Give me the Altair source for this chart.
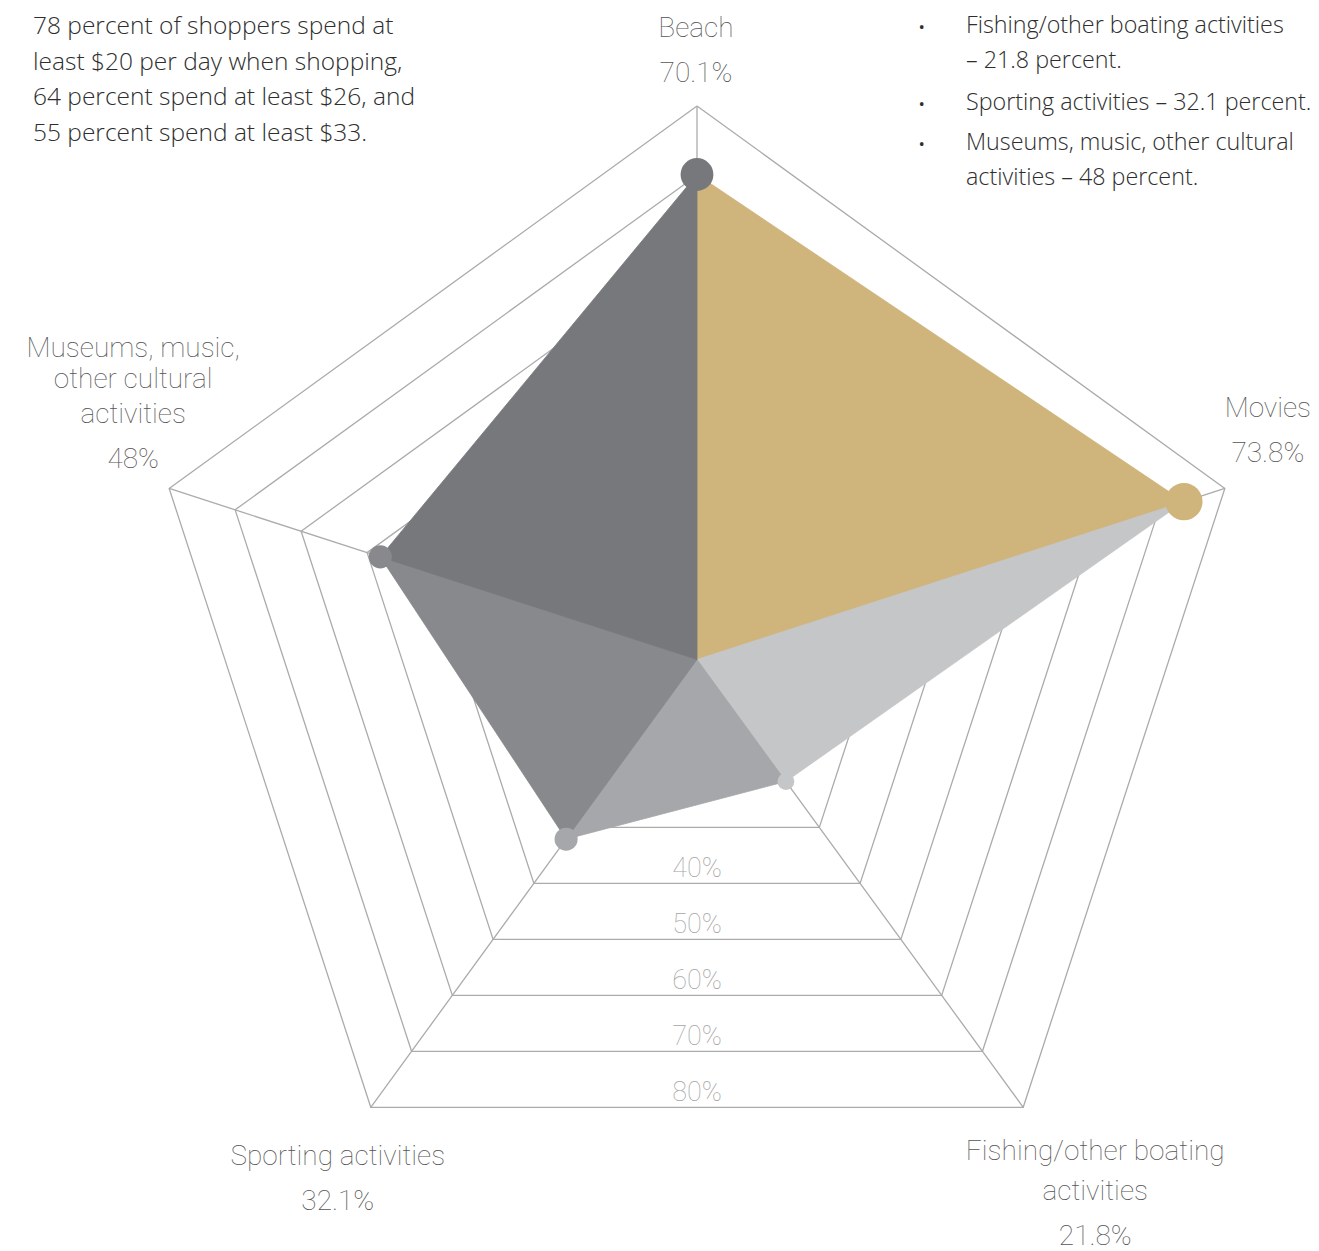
import altair as alt
import pandas as pd

# ---------------- data ----------------
categories = ["Beach", "Movies", "Fishing/other boating activities",
              "Sporting activities", "Museums, music, other cultural activities"]
label_lines = [["Beach"], ["Movies"], ["Fishing/other boating", "activities"],
               ["Sporting activities"], ["Museums, music,", "other cultural", "activities"]]
values = [70.1, 73.8, 21.8, 32.1, 48.0]
ring_levels = [30, 40, 50, 60, 70, 80]
ring_label_levels = [40, 50, 60, 70, 80]

note_lines = ["78 percent of shoppers spend at",
              "least $20 per day when shopping,",
              "64 percent spend at least $26, and",
              "55 percent spend at least $33."]
bullet_items = [["Fishing/other boating activities", "\u2013 21.8 percent."],
                ["Sporting activities \u2013 32.1 percent."],
                ["Museums, music, other cultural", "activities \u2013 48 percent."]]

# ---------------- styles / layout ----------------
wedge_colors = ["#CFB47B", "#C5C6C8", "#A6A7AA", "#88898C", "#77787C"]
dot_colors = ["#77787C", "#CFB47B", "#C5C6C8", "#A6A7AA", "#88898C"]
dot_diameters = [37, 42, 19, 26, 26]
grid_color = "#ABABAB"
label_color = "#555555"
ring_label_color = "#A5A5A5"
label_font = "Roboto"
label_weight = 100
text_font = "Open Sans"
text_weight = 300
text_color = "#2E2E2E"

# label offsets (px) from the outer-ring vertex: dx, name-line baselines, percent baseline
label_dx = [-1, 43, 72, -33, -36]
label_name_dy = [[-68.7], [-71.8], [52.7, 92.7], [57.7], [-131.8, -100.2, -65.2]]
label_pct_dy = [-24.3, -26.8, 137.7, 102.7, -20.2]

W, H = 1303, 1243
CX, CY = 697 - 8, 659.5 - 8          # centre inside plot area
KX, KY = 555 / 80, 553.5 / 80         # px per percentage point
x_dom = [-CX / KX, (W - CX) / KX]
y_dom = [(CY - H) / KY, CY / KY]

X = alt.X("x:Q", scale=alt.Scale(domain=x_dom, nice=False, zero=False), axis=None)
Y = alt.Y("y:Q", scale=alt.Scale(domain=y_dom, nice=False, zero=False), axis=None)

XCALC = "datum.r * sin(datum.axis * 2 * PI / 5)"
YCALC = "datum.r * cos(datum.axis * 2 * PI / 5)"

# ---------------- grid rings ----------------
ring_df = pd.DataFrame([{"level": L, "k": k, "axis": k % 5, "r": L}
                        for L in ring_levels for k in range(6)])
rings = alt.Chart(ring_df).transform_calculate(x=XCALC, y=YCALC).mark_line(
    color=grid_color, strokeWidth=1.3).encode(X, Y, detail="level:N", order="k:Q")

spoke_df = pd.DataFrame([{"axis": a, "k": k, "r": r}
                         for a in range(5) for k, r in enumerate([0, ring_levels[-1]])])
spokes = alt.Chart(spoke_df).transform_calculate(x=XCALC, y=YCALC).mark_line(
    color=grid_color, strokeWidth=1.3).encode(X, Y, detail="axis:N", order="k:Q")

# ---------------- wedges ----------------
tri_rows = []
for i in range(5):
    j = (i + 1) % 5
    for k, (r, a) in enumerate([(0, i), (values[i], i), (values[j], j), (0, j)]):
        tri_rows.append({"wedge": categories[i], "k": k, "r": r, "axis": a,
                         "col": wedge_colors[i]})
tri_df = pd.DataFrame(tri_rows)
wedges = alt.Chart(tri_df).transform_calculate(x=XCALC, y=YCALC).mark_line(
    filled=True, strokeWidth=0.8, strokeJoin="round").encode(
    X, Y, detail="wedge:N", order="k:Q",
    fill=alt.Fill("col:N", scale=None),
    stroke=alt.Stroke("col:N", scale=None))

# ---------------- dots ----------------
dot_df = pd.DataFrame({"category": categories, "r": values, "axis": list(range(5)),
                       "col": dot_colors,
                       "area": [3.14159 * (d / 2) ** 2 for d in dot_diameters]})
dots = alt.Chart(dot_df).transform_calculate(x=XCALC, y=YCALC).mark_circle(opacity=1).encode(
    X, Y, color=alt.Color("col:N", scale=None), size=alt.Size("area:Q", scale=None))

# ---------------- ring labels ----------------
rl_df = pd.DataFrame({"level": ring_label_levels})
ring_labels = alt.Chart(rl_df).transform_calculate(
    x="0", y="-datum.level * cos(PI / 5)", label="datum.level + '%'").mark_text(
    font=label_font, fontWeight=label_weight, fontSize=27, color=ring_label_color,
    align="center", baseline="alphabetic", dy=-6.7).encode(X, Y, text="label:N")

# ---------------- axis labels ----------------
label_layers = []
for i, cat in enumerate(categories):
    lines = label_lines[i] + [f"{values[i]:g}%"]
    dys = label_name_dy[i] + [label_pct_dy[i]]
    for line, dy in zip(lines, dys):
        df = pd.DataFrame({"axis": [i], "r": [ring_levels[-1]], "t": [line]})
        label_layers.append(
            alt.Chart(df).transform_calculate(x=XCALC, y=YCALC).mark_text(
                font=label_font, fontWeight=label_weight, fontSize=28, color=label_color,
                align="center", baseline="alphabetic", dx=label_dx[i], dy=dy
            ).encode(X, Y, text="t:N"))

# ---------------- annotations ----------------
one = pd.DataFrame({"a": [0]})
note = alt.Chart(one).mark_text(
    text=note_lines, font=text_font, fontWeight=text_weight, fontSize=24.5, lineHeight=35.5,
    color=text_color, align="left", baseline="alphabetic").encode(
    x=alt.value(33 - 8), y=alt.value(34 - 8))

bullet_layers = []
for item, yb in zip(bullet_items, [33.3, 110, 150]):
    bullet_layers.append(alt.Chart(one).mark_text(
        text=item, font=text_font, fontWeight=text_weight, fontSize=23.3, lineHeight=35,
        color=text_color, align="left", baseline="alphabetic").encode(
        x=alt.value(966 - 8), y=alt.value(yb - 8)))
    bullet_layers.append(alt.Chart(one).mark_text(
        text="\u2022", font=text_font, fontSize=17, color=text_color,
        align="center", baseline="alphabetic").encode(x=alt.value(921.7 - 8), y=alt.value(yb - 8)))

chart = alt.layer(rings, spokes, wedges, dots, ring_labels, *label_layers, note,
                  *bullet_layers).properties(
    width=W, height=H, padding=0, autosize=alt.AutoSizeParams(type="none"),
    background="white"
).configure_view(strokeWidth=0)

chart.save("out.html", embed_options={"renderer": "svg", "actions": False})
